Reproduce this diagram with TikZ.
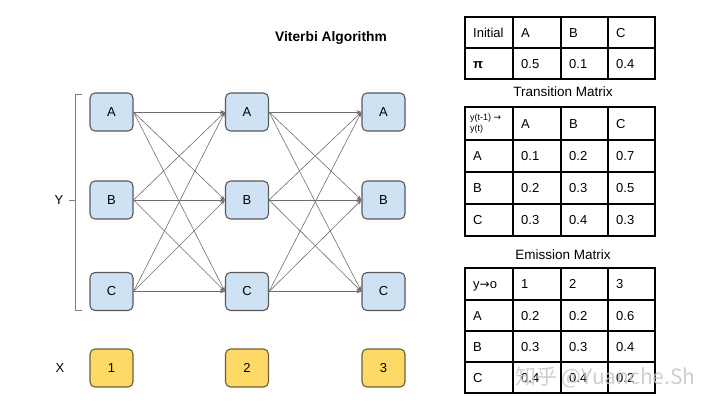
\documentclass[tikz,border=0pt]{standalone}
\usepackage{fontspec}
\setmainfont{Liberation Sans}
\newfontfamily\djv{DejaVu Sans}
\newfontfamily\cjk{Noto Sans CJK SC}
\usetikzlibrary{arrows.meta}
\definecolor{boxblue}{HTML}{CFE2F3}
\definecolor{boxyel}{HTML}{FFD966}
\definecolor{edgegray}{HTML}{595959}
\definecolor{yelbrd}{HTML}{6B5E3C}
\definecolor{arrgray}{HTML}{6E6E6E}
\begin{document}
\begin{tikzpicture}[x=1pt,y=-1pt,
  state/.style={draw=edgegray, line width=1.1pt, fill=boxblue, rounded corners=5pt,
    minimum width=43pt, minimum height=38pt, inner sep=0pt, font=\fontsize{13}{13}\selectfont},
  obs/.style={state, fill=boxyel, draw=yelbrd},
  trans/.style={draw=arrgray, line width=0.6pt, -{Stealth[length=5pt,width=3.6pt]}},
  cell/.style={anchor=base west, inner sep=0pt, font=\fontsize{13}{13}\selectfont},
  grid/.style={line width=1.4pt, black},
  lbl/.style={inner sep=0pt, font=\fontsize{13}{13}\selectfont}]
\useasboundingbox (0,0) rectangle (720,405);

% title
\node[inner sep=0pt, font=\bfseries\fontsize{13.8}{14}\selectfont] (title) at (331,38) {Viterbi Algorithm};

% state nodes
\foreach \c/\x in {1/111.5,2/247,3/383.5}{
  \node[state] (A\c) at (\x,112) {A};
  \node[state] (B\c) at (\x,200) {B};
  \node[state] (C\c) at (\x,291.5) {C};
  \node[obs] (O\c) at (\x,368) {\c};
}

% transitions
\foreach \i/\j in {1/2,2/3}
  \foreach \a in {A,B,C}
    \foreach \b in {A,B,C}
      \draw[trans] (\a\i.east) -- (\b\j.west);

% Y bracket and labels
\coordinate (bt) at (75,94);
\coordinate (bb) at (75,310);
\coordinate (bm) at (75,200);
\draw[gray, line width=0.8pt] ([xshift=7pt]bt) -- (bt) -- (bb) -- ([xshift=7pt]bb);
\node[lbl] (Ylab) at (59,200) {Y};
\draw[gray, line width=0.8pt] ([xshift=-6pt]bm) -- (bm);
\node[lbl] (Xlab) at (60,368) {X};

% ---------- Table 1: Initial ----------
\draw[grid] (465,17) rectangle (655,79);
\draw[grid] (465,48) -- (655,48);
\foreach \x in {513,561,608} \draw[grid] (\x,17) -- (\x,79);
\node[cell] (i00) at (473,37.2) {Initial};
\node[cell] (i01) at (521,37.2) {A};
\node[cell] (i02) at (569,37.2) {B};
\node[cell] (i03) at (616,37.2) {C};
\node[cell] (i10) at (473,68.2) {\textbf{π}};
\node[cell] (i11) at (521,68.2) {0.5};
\node[cell] (i12) at (569,68.2) {0.1};
\node[cell] (i13) at (616,68.2) {0.4};

% ---------- Table 2: Transition ----------
\node[inner sep=0pt, font=\fontsize{13.5}{14}\selectfont] (ttitle) at (563,92) {Transition Matrix};
\draw[grid] (465,107) rectangle (655,236);
\foreach \y in {140,172,204} \draw[grid] (465,\y) -- (655,\y);
\foreach \x in {513,561,608} \draw[grid] (\x,107) -- (\x,236);
\node[anchor=west, inner sep=0pt, font=\fontsize{9}{10.5}\selectfont, align=left] (t00) at (470,123.5) {y(t-1) {\djv →}\\y(t)};
\node[cell] (t01) at (521,128.2) {A};
\node[cell] (t02) at (569,128.2) {B};
\node[cell] (t03) at (616,128.2) {C};
\node[cell] (t10) at (473,160.7) {A};
\node[cell] (t11) at (521,160.7) {0.1};
\node[cell] (t12) at (569,160.7) {0.2};
\node[cell] (t13) at (616,160.7) {0.7};
\node[cell] (t20) at (473,192.7) {B};
\node[cell] (t21) at (521,192.7) {0.2};
\node[cell] (t22) at (569,192.7) {0.3};
\node[cell] (t23) at (616,192.7) {0.5};
\node[cell] (t30) at (473,224.7) {C};
\node[cell] (t31) at (521,224.7) {0.3};
\node[cell] (t32) at (569,224.7) {0.4};
\node[cell] (t33) at (616,224.7) {0.3};

% ---------- Table 3: Emission ----------
\node[inner sep=0pt, font=\fontsize{13.5}{14}\selectfont] (etitle) at (563,255) {Emission Matrix};
\draw[grid] (465,268) rectangle (655,393);
\foreach \y in {300,331,362} \draw[grid] (465,\y) -- (655,\y);
\foreach \x in {513,561,608} \draw[grid] (\x,268) -- (\x,393);
\node[cell] (e00) at (473,288.7) {y{\djv\fontsize{12}{12}\selectfont →}o};
\node[cell] (e01) at (521,288.7) {1};
\node[cell] (e02) at (569,288.7) {2};
\node[cell] (e03) at (616,288.7) {3};
\node[cell] (e10) at (473,320.2) {A};
\node[cell] (e11) at (521,320.2) {0.2};
\node[cell] (e12) at (569,320.2) {0.2};
\node[cell] (e13) at (616,320.2) {0.6};
\node[cell] (e20) at (473,351.2) {B};
\node[cell] (e21) at (521,351.2) {0.3};
\node[cell] (e22) at (569,351.2) {0.3};
\node[cell] (e23) at (616,351.2) {0.4};
\node[cell] (e30) at (473,382.2) {C};
\node[cell] (e31) at (521,382.2) {0.4};
\node[cell] (e32) at (569,382.2) {0.4};
\node[cell] (e33) at (616,382.2) {0.2};

% watermark
\node[anchor=west, inner sep=0pt, text=gray!45, opacity=0.85, font=\cjk\fontsize{21}{21}\selectfont] (wm) at (515,377) {知乎 @Yuanche.Sh};
\end{tikzpicture}
\end{document}
